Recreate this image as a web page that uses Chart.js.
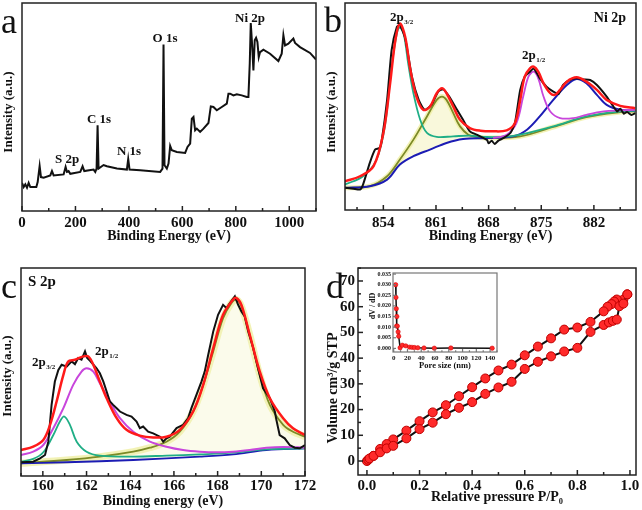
<!DOCTYPE html>
<html>
<head>
<meta charset="utf-8">
<script src="https://cdn.jsdelivr.net/npm/chart.js@4.4.1/dist/chart.umd.min.js"></script>
<style>
body { margin: 0; background: #fff; width: 642px; height: 510px; position: relative; overflow: hidden; }
canvas { position: absolute; }
</style>
</head>
<body>
<canvas id="pa" width="321" height="255" style="left:0;top:0"></canvas>
<canvas id="pb" width="321" height="255" style="left:321px;top:0"></canvas>
<canvas id="pc" width="321" height="255" style="left:0;top:255px"></canvas>
<canvas id="pd" width="321" height="255" style="left:321px;top:255px"></canvas>
<canvas id="pin" width="145" height="112" style="left:358px;top:262px"></canvas>
<script>
"use strict"

// ---- a: survey spectrum (binding energy eV, intensity a.u.)
const surveyTicks = [0, 200, 400, 600, 800, 1000];
const surveyPoints = [[0,13.5],[6.2,11.5],[12.5,12.8],[18.7,11.2],[24.9,13.5],[31.1,11.5],[53.6,11.5],[58.6,13.9],
  [66,21.6],[71,16.3],[81,16],[105.9,17.1],[112.1,19.2],[118.4,17.1],[155.7,17.6],[163.2,21.2],[168.2,18.8],
  [174.4,19.2],[180.6,17.9],[218,18.8],[226.7,21.5],[233,19.2],[267.8,19.9],[274.1,18.8],[279.1,20.4],[282.8,41.2],
  [286.5,20.4],[305.2,22.1],[317.7,21.5],[355.1,20.4],[392.4,19.9],[397.4,25],[402.4,19.9],[442.3,19.6],[517,18.8],
  [525.7,20.4],[529.5,80],[533.2,22],[541.9,20.4],[548.2,22.8],[554.4,31.3],[560.6,29.2],[579.3,28.4],[610.4,27.9],
  [619.2,30.8],[629.1,32.4],[635.4,44.4],[641.6,45.2],[647.8,38.8],[654,39.6],[666.5,38],[679,39.6],[697.6,42.3],
  [706.4,50.3],[716.3,50],[728.8,48.4],[747.5,50],[766.2,51.6],[772.4,56.4],[778.6,56.4],[791.1,55.6],[803.5,56.1],
  [822.2,55.6],[840.9,54.8],[847.1,54.8],[852.1,70.8],[855.9,90.4],[860.8,80.4],[865.8,67.6],[870.8,82.1],
  [875.8,83.3],[880.8,81.3],[885.8,74],[890.7,76.4],[903.2,77.6],[928.1,75.6],[959.3,72.1],[971.7,75.6],[978,84.5],
  [984.2,79.6],[996.6,80.4],[1015.3,82.9],[1021.6,80.8],[1040.2,78.8],[1077.6,76],[1100,72.8]];

// ---- b: Ni 2p
const niTicks = [854, 861, 868, 875, 882];
const niRaw = [[848.9,10.7],[850.0,10.3],[850.9,9.9],[851.3,12.3],[852.2,22.8],[852.9,29.2],[853.5,30.0],[853.8,34.0],
  [854.5,53.2],[855.1,77.2],[855.8,88.5],[856.2,89.3],[856.9,82.9],[857.8,64.4],[858.7,53.2],[859.5,48.4],[860.4,50.8],
  [861.3,57.2],[862.0,58.3],[862.9,54.0],[863.8,48.4],[864.6,43.6],[865.5,38.0],[866.4,36.4],[867.3,34.8],[867.8,33.8],
  [868.0,32.2],[868.4,33.5],[868.8,31.9],[869.3,33.5],[870.0,34.8],[870.9,37.2],[871.5,42.0],[872.2,58.0],[872.8,64.4],
  [873.5,66.8],[874.0,68.4],[874.8,63.6],[875.7,59.6],[876.6,57.2],[877.3,56.1],[877.9,60.4],[878.8,62.8],[879.7,63.6],
  [880.6,63.1],[881.5,62.8],[882.4,60.4],[883.7,54.8],[884.6,50.0],[885.1,47.6],[885.5,48.9],[886.0,46.5],[886.4,47.4],
  [887.0,45.9],[887.5,46.8]];
const niEnvelope = [[848.9,13.9],[850.9,16.3],[852.7,21.2],[854.0,37.2],[854.9,61.2],[855.6,82.1],[856.2,90.1],[856.9,83.7],
  [857.6,67.6],[858.4,54.8],[859.3,48.4],[860.2,50.0],[861.1,56.4],[861.8,58.8],[862.4,56.4],[863.3,50.0],[864.2,43.6],
  [865.5,39.6],[866.9,38.3],[868.6,38.0],[870.4,38.5],[871.5,42.0],[872.2,53.2],[872.8,64.4],[873.5,68.4],[874.0,69.2],
  [874.6,66.8],[875.3,61.2],[876.2,56.4],[876.8,55.6],[877.5,58.0],[878.4,62.0],[879.7,64.1],[881.0,62.0],[882.4,58.0],
  [883.7,53.2],[885.5,50.3],[887.5,49.2]];
const niPeak1 = [[848.9,12.3],[851.3,16.3],[853.1,24.4],[854.2,40.4],[855.1,69.2],[855.8,85.3],[856.2,88.1],[856.7,85.3],
  [857.3,70.8],[858.0,56.4],[858.9,43.6],[859.8,37.2],[861.1,35.3],[863.3,35.6],[865.5,35.9],[867.8,35.3],[870.0,35.3],
  [872.2,36.4],[876.6,40.4],[881.0,45.2],[885.5,47.6],[887.5,47.9]];
const niSat1 = [[848.9,10.7],[852.2,11.5],[854.5,16.3],[856.2,24.4],[858.0,34.0],[859.8,45.2],[861.1,53.2],[861.8,54.8],
  [862.4,53.2],[863.3,46.8],[864.2,40.4],[865.3,36.4],[866.4,35.3],[867.8,34.8],[872.2,35.6],[876.6,40.1],[881.0,44.9],
  [885.5,47.3],[887.5,47.6]];
const niPeak2 = [[868.6,34.8],[870.4,36.4],[871.7,42.0],[872.6,54.8],[873.3,64.4],[874.0,66.8],[874.6,63.6],[875.3,54.8],
  [876.2,47.6],[877.5,44.4],[879.3,44.4],[881.0,46.0],[883.3,47.6],[885.5,48.1],[887.5,48.4]];
const niSat2 = [[848.9,10.7],[852.2,11.5],[854.5,14.7],[856.2,22.0],[858.0,26.0],[860.2,29.2],[862.4,32.4],[864.6,34.3],
  [867.8,34.8],[871.3,35.6],[873.1,38.8],[874.8,45.2],[876.6,53.2],[878.4,60.4],[879.7,63.3],[881.0,61.2],[882.4,55.6],
  [883.7,50.8],[885.5,48.4],[887.5,47.9]];

// ---- c: S 2p
const sTicks = [160, 162, 164, 166, 168, 170, 172];
const sRaw = [[159.0,6.6],[159.56,6.9],[159.87,8.5],[160.10,10.1],[160.25,16.5],[160.40,34.2],[160.55,45.4],[160.71,51.0],
  [160.86,53.5],[161.09,52.6],[161.32,55.1],[161.47,53.8],[161.62,56.7],[161.77,55.9],[161.93,59.9],[162.03,56.7],
  [162.16,55.4],[162.46,51.8],[162.61,49.4],[162.77,45.4],[162.92,40.6],[163.07,35.8],[163.22,34.2],[163.38,32.6],
  [163.53,31.0],[163.83,29.4],[164.06,28.6],[164.29,26.2],[164.44,23.0],[164.59,23.8],[164.82,21.3],[165.05,20.5],
  [165.36,18.9],[165.51,16.5],[165.66,18.1],[165.81,18.9],[166.12,23.0],[166.42,24.6],[166.65,27.8],[166.80,32.6],
  [167.03,39.0],[167.26,45.4],[167.41,50.2],[167.57,58.3],[167.80,69.5],[168.02,77.5],[168.25,82.3],[168.41,80.7],
  [168.56,83.1],[168.79,86.4],[168.94,82.3],[169.09,79.1],[169.24,76.7],[169.40,69.5],[169.63,61.5],[169.85,51.8],
  [170.08,42.2],[170.39,37.4],[170.62,31.0],[170.69,27.0],[170.84,19.7],[171.07,18.1],[171.30,14.9],[171.53,13.6],
  [171.76,13.3],[172.0,14.9]];
const sEnvelope = [[159.0,12.5],[159.56,14.1],[160.02,17.3],[160.33,24.6],[160.63,35.8],[160.94,48.6],[161.16,55.1],
  [161.47,55.9],[161.85,57.5],[162.08,57.5],[162.31,53.5],[162.61,45.4],[162.92,37.4],[163.38,27.8],[163.83,22.2],
  [164.44,19.4],[165.05,18.5],[165.66,18.9],[166.27,22.2],[166.88,31.0],[167.34,43.8],[167.80,61.5],[168.25,77.5],
  [168.71,84.8],[168.86,85.6],[169.09,82.3],[169.47,67.9],[169.93,50.2],[170.39,37.4],[171.0,27.8],[171.45,23.0],[172.0,19.7]];
const sHalf12 = [[159.0,10.1],[159.56,11.7],[160.02,14.9],[160.48,23.0],[160.94,32.6],[161.39,43.8],[161.77,50.2],[162.0,51.8],
  [162.31,50.2],[162.61,44.6],[163.07,35.8],[163.53,27.8],[164.14,21.3],[164.90,16.5],[165.66,14.1],[166.42,12.5],
  [167.19,11.7],[167.95,11.4],[168.71,11.7],[169.47,12.5],[170.23,13.6],[171.0,14.0],[172.0,13.6]];
const sHalf32 = [[159.0,6.9],[159.56,8.2],[160.02,11.4],[160.48,19.7],[160.78,26.2],[160.98,28.6],[161.24,24.6],[161.55,16.5],
  [162.0,11.7],[162.61,9.8],[164.14,9.3],[165.66,9.8],[167.19,10.4],[168.71,11.2],[170.23,12.8],[172.0,13.3]];
const sSulfate = [[159.0,6.1],[161.09,7.7],[162.61,9.3],[164.14,11.7],[164.90,13.6],[165.66,16.5],[166.27,21.3],[166.88,31.0],
  [167.34,43.8],[167.80,59.9],[168.25,75.9],[168.63,83.1],[168.86,84.8],[169.09,81.5],[169.47,67.9],[169.93,48.6],
  [170.39,34.2],[171.0,24.6],[171.45,21.3],[172.0,18.9]];
const sBackground = [[159.0,6.1],[161.09,6.6],[164.14,7.7],[167.19,9.3],[168.71,10.4],[170.23,12.5],[172.0,13.3]];

// ---- d: N2 isotherm and pore size distribution
const pressureTicks = [0, 0.2, 0.4, 0.6, 0.8, 1.0];
const volumeTicks = [0, 10, 20, 30, 40, 50, 60, 70];
const adsorption = [[0,0],[0.005,0.5],[0.01,1.0],[0.025,2.0],[0.05,3.4],[0.075,4.9],[0.1,5.9],[0.15,8.8],[0.2,12.4],
  [0.25,14.9],[0.3,18.2],[0.35,20.7],[0.4,22.9],[0.45,26.1],[0.5,28.6],[0.55,30.8],[0.6,35.8],[0.65,38.6],[0.7,40.7],
  [0.75,42.6],[0.8,44.0],[0.85,50.2],[0.9,52.9],[0.92,53.9],[0.935,54.5],[0.95,55.0],[0.96,60.2],[0.975,61.2],[0.99,64.8]];
const desorption = [[0.99,64.8],[0.975,62.8],[0.95,62.8],[0.94,62.0],[0.93,61.0],[0.915,60.0],[0.9,58.2],[0.85,54.1],
  [0.8,51.9],[0.75,51.1],[0.7,47.7],[0.65,44.5],[0.6,41.1],[0.55,37.5],[0.5,35.2],[0.45,32.1],[0.4,28.7],[0.35,25.2],
  [0.3,21.7],[0.25,18.9],[0.2,15.5],[0.15,11.8],[0.1,8.4],[0.075,6.6],[0.05,4.7],[0.025,2.0]];
const poreTicks = [0, 20, 40, 60, 80, 100, 120, 140];
const dvTicks = [0, 0.005, 0.010, 0.015, 0.020, 0.025, 0.030, 0.035];
const poreDist = [[2.9,0.030],[3.3,0.024],[3.8,0.0187],[4.6,0.015],[4.2,0.0105],[5.3,0.0105],[6.4,0.0078],[7.3,0.0057],
  [9.3,0.0003],[12.5,0.0015],[17.5,0.0012],[23,0.0006],[26.5,0.0005],[30,0.0004],[35,0.0003],[44,0.0002],[59,0.0001],
  [83,0.0002],[143,0.0001]];

const SERIF = "Liberation Serif";
Chart.defaults.font.family = SERIF;
Chart.defaults.color = "#111";

const framePlugin = {
  id: "frame",
  afterDraw(chart, args, o) {
    const ctx = chart.ctx, a = chart.chartArea;
    ctx.save();
    ctx.strokeStyle = o.color;
    ctx.lineWidth = o.width;
    ctx.strokeRect(a.left, a.top, a.right - a.left, a.bottom - a.top);
    ["x", "y"].forEach(id => {
      const m = o[id];
      if (!m) return;
      const s = chart.scales[id];
      const marks = s.ticks.map(t => [t.value, m.len]);
      if (m.minor) {
        for (let v = m.minorFrom; v <= s.max + 1e-9; v += m.minor) marks.push([v, m.len * 0.6]);
      }
      marks.forEach(([v, len]) => {
        const p = s.getPixelForValue(v);
        ctx.beginPath();
        if (id === "x") {
          if (p < a.left || p > a.right) return;
          ctx.moveTo(p, a.bottom); ctx.lineTo(p, a.bottom - len);
        } else {
          if (p < a.top || p > a.bottom) return;
          ctx.moveTo(a.left, p); ctx.lineTo(a.left + len, p);
        }
        ctx.stroke();
      });
    });
    ctx.restore();
  }
};

const textPlugin = {
  id: "texts",
  afterDraw(chart, args, o) {
    const ctx = chart.ctx;
    (o.items || []).forEach(t => {
      ctx.save();
      ctx.fillStyle = "#111";
      ctx.font = t.font;
      ctx.textAlign = t.align || "left";
      ctx.textBaseline = t.base || "alphabetic";
      ctx.translate(t.x, t.y);
      if (t.rot) ctx.rotate(t.rot);
      ctx.fillText(t.text, 0, 0);
      if (t.sub) {
        const w = ctx.measureText(t.text).width;
        ctx.font = t.subFont;
        ctx.fillText(t.sub, w + 0.5, 3);
      }
      ctx.restore();
    });
  }
};

function pts(list) {
  return list.map(p => ({ x: p[0], y: p[1] }));
}

function curve(list, color, width, extra) {
  return Object.assign({
    data: pts(list), borderColor: color, borderWidth: width,
    pointRadius: 0, tension: 0.35, fill: false
  }, extra || {});
}

const bold = size => ({ family: SERIF, size: size, weight: "bold" });
const label = (text, x, y, size, extra) => Object.assign({ text, x, y, font: "bold " + size + "px \"" + SERIF + "\"" }, extra || {});
const letter = (text, x, y) => ({ text, x, y, font: "36px \"" + SERIF + "\"" });
const yTitle = (text, x, y, size) => label(text, x, y, size, { rot: -Math.PI / 2, align: "center", base: "middle" });
const peak = (sub, x, y) => label("2p", x, y, 13, { sub: sub, subFont: "bold 7px \"" + SERIF + "\"" });

function makeChart(id, datasets, c) {
  return new Chart(document.getElementById(id), {
    type: "line",
    data: { datasets: datasets },
    options: {
      responsive: false, animation: false, devicePixelRatio: 1,
      layout: { padding: { left: 0, bottom: 0, top: c.top, right: c.right } },
      plugins: {
        legend: { display: false }, tooltip: { enabled: false },
        frame: { color: c.frameColor || "#222", width: c.frameWidth || 1.5, x: c.xMarks, y: c.yMarks },
        texts: { items: c.texts }
      },
      scales: {
        x: {
          type: "linear", min: c.x.min, max: c.x.max,
          grid: { display: false, drawTicks: false }, border: { display: false },
          afterBuildTicks: s => { s.ticks = c.x.ticks.map(v => ({ value: v })); },
          afterFit: s => { s.height = c.x.height; },
          ticks: { padding: c.x.pad, font: bold(c.x.size), color: "#111", autoSkip: false, maxRotation: 0,
                   callback: c.x.fmt || (v => v) },
          title: { display: true, text: c.x.title, font: bold(c.x.titleSize), color: "#111",
                   padding: { top: 0, bottom: c.x.titlePad } }
        },
        y: {
          type: "linear", min: c.y.min, max: c.y.max,
          grid: { display: false, drawTicks: false }, border: { display: false },
          afterBuildTicks: s => { s.ticks = (c.y.ticks || []).map(v => ({ value: v })); },
          afterFit: s => { s.width = c.y.width; },
          ticks: { display: !!c.y.ticks, padding: c.y.pad || 0, font: bold(c.y.size || 10), color: "#111",
                   autoSkip: false, callback: c.y.fmt || (v => v) },
          title: { display: false }
        }
      }
    },
    plugins: [framePlugin, textPlugin]
  });
}

const RED = "#ff1a1a", MAGENTA = "#c846dc", GREEN = "#1fae86", OLIVE = "#7c8a26", BLUE = "#1c1cb4";
const HALO = "rgba(236,236,150,0.7)";

// a
makeChart("pa", [curve(surveyPoints, "#111", 2, { tension: 0 })], {
  top: 3, right: 5,
  x: { min: 0, max: 1100, ticks: surveyTicks, height: 44, pad: 3, size: 15, title: "Binding Energy (eV)", titleSize: 14, titlePad: 10 },
  y: { min: 0, max: 100, width: 22 },
  xMarks: { len: 5, minor: 200, minorFrom: 100 },
  texts: [
    letter("a", 1, 33),
    yTitle("Intensity (a.u.)", 9, 112, 13),
    label("O 1s", 165, 42, 13, { align: "center" }),
    label("Ni 2p", 250, 22, 13, { align: "center" }),
    label("C 1s", 99, 123, 13, { align: "center" }),
    label("N 1s", 129, 155, 13, { align: "center" }),
    label("S 2p", 67, 163, 13, { align: "center" })
  ]
});

// b
makeChart("pb", [
  curve(niEnvelope, RED, 2.5),
  curve(niRaw, "#111", 2, { tension: 0.2 }),
  curve(niPeak2, MAGENTA, 1.8),
  curve(niPeak1, GREEN, 1.8),
  curve(niSat2, BLUE, 2),
  curve(niSat1, OLIVE, 1.8, { fill: { target: 4, above: "rgba(240,238,165,0.4)", below: "rgba(0,0,0,0)" } }),
  curve(niSat1, HALO, 5)
], {
  top: 3, right: 6,
  x: { min: 848.9, max: 887.6, ticks: niTicks, height: 45, pad: 4, size: 15, title: "Binding Energy (eV)", titleSize: 14, titlePad: 10 },
  y: { min: 0, max: 100, width: 24 },
  xMarks: { len: 5, minor: 7, minorFrom: 850.5 },
  texts: [
    letter("b", 3, 32),
    yTitle("Intensity (a.u.)", 11, 112, 13),
    peak("3/2", 69, 21),
    peak("1/2", 201, 59),
    label("Ni 2p", 289, 22, 14, { align: "center" })
  ]
});

// c
makeChart("pc", [
  curve(sEnvelope, RED, 2.5),
  curve(sRaw, "#111", 2, { tension: 0 }),
  curve(sHalf12, MAGENTA, 2),
  curve(sHalf32, GREEN, 1.8),
  curve(sBackground, BLUE, 1.8),
  curve(sSulfate, OLIVE, 1.8, { fill: { target: 4, above: "rgba(242,242,190,0.3)", below: "rgba(0,0,0,0)" } }),
  curve(sSulfate, HALO, 7)
], {
  top: 13, right: 16,
  x: { min: 159, max: 172, ticks: sTicks, height: 34, pad: 1, size: 15, title: "Binding energy (eV)", titleSize: 14, titlePad: 0 },
  y: { min: 0, max: 100, width: 21 },
  xMarks: { len: 5, minor: 2, minorFrom: 159 },
  texts: [
    letter("c", 1, 43),
    yTitle("Intensity (a.u.)", 8, 121, 13),
    label("S 2p", 28, 31, 15),
    peak("3/2", 32, 111),
    peak("1/2", 95, 100)
  ]
});

// d
makeChart("pd", [
  { data: pts(adsorption), borderColor: "#111", borderWidth: 2, tension: 0, pointRadius: 4.5,
    pointBackgroundColor: "#ff2a2a", pointBorderColor: "#c00000", pointBorderWidth: 1 },
  { data: pts(desorption), borderColor: "#111", borderWidth: 2, tension: 0, pointRadius: 4.5,
    pointBackgroundColor: "#ff2a2a", pointBorderColor: "#c00000", pointBorderWidth: 1 }
], {
  top: 13, right: 6,
  x: { min: -0.034, max: 1.023, ticks: pressureTicks, height: 35, pad: 2, size: 15, title: "Relative pressure P/P\u2080",
       titleSize: 14, titlePad: 4, fmt: v => v.toFixed(1) },
  y: { min: -5.44, max: 75.05, width: 37, ticks: volumeTicks, pad: 3, size: 15 },
  xMarks: { len: 5, minor: 0.2, minorFrom: 0.1 },
  yMarks: { len: 5, minor: 10, minorFrom: 5 },
  texts: [
    letter("d", 5, 43),
    yTitle("Volume cm\u00b3/g STP", 12, 133, 14)
  ]
});

// d inset
makeChart("pin", [
  { data: pts(poreDist), borderColor: "#111", borderWidth: 1.5, tension: 0, pointRadius: 2.2,
    pointBackgroundColor: "#ff2a2a", pointBorderColor: "#d00000", pointBorderWidth: 0.5 }
], {
  top: 11, right: 6, frameColor: "#777", frameWidth: 1.2,
  x: { min: -1, max: 150, ticks: poreTicks, height: 22, pad: 1.5, size: 7, title: "Pore size (nm)", titleSize: 8.5, titlePad: 3 },
  y: { min: -0.0017, max: 0.0355, width: 35, ticks: dvTicks, pad: 2, size: 6, fmt: v => v.toFixed(3) },
  xMarks: { len: 3, minor: 20, minorFrom: 10 },
  yMarks: { len: 3 },
  texts: [ yTitle("dV / dD", 14.5, 44, 8) ]
});
</script>
</body>
</html>
